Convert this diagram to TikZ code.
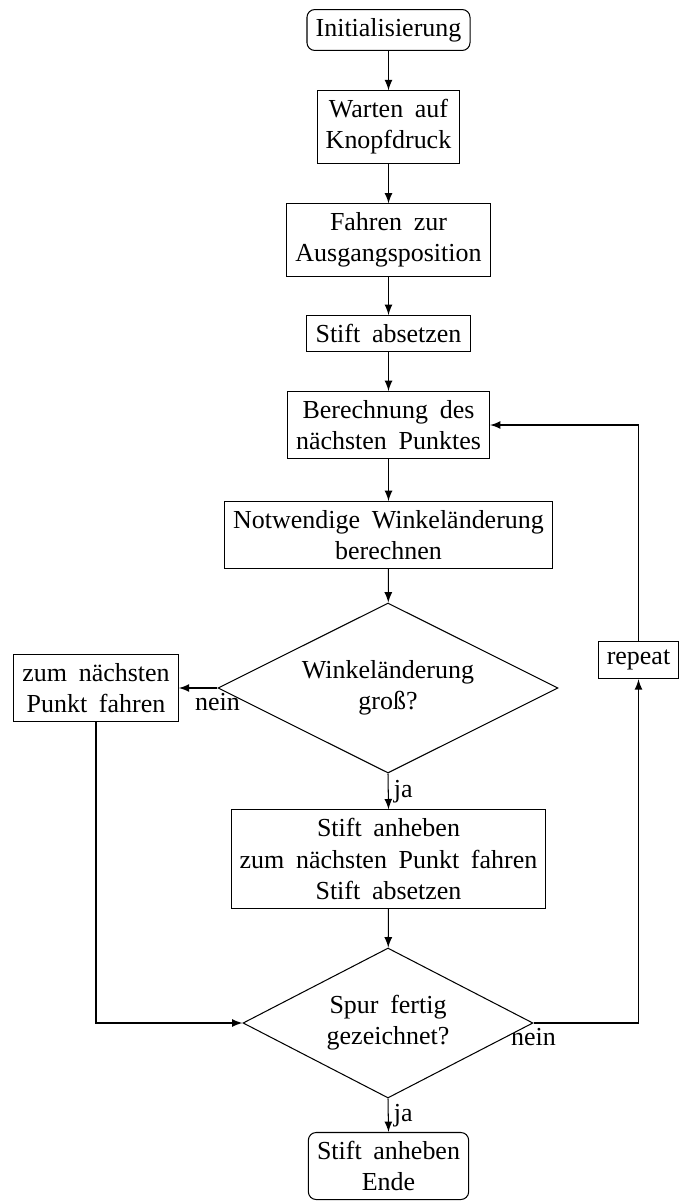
\documentclass[tikz,border=0pt]{standalone}
\usepackage{fontspec}
\setmainfont[WordSpace=1.8]{Liberation Serif}
\usetikzlibrary{shapes.geometric,arrows}
\begin{document}
\begin{tikzpicture}[x=0.385pt,y=-0.385pt,>=latex,
  stepbox/.style={draw,rectangle,align=center,line width=0.4pt},
  termbox/.style={draw,rectangle,rounded corners=3pt,align=center,line width=0.4pt},
  decbox/.style={draw,diamond,aspect=2,align=center,inner sep=0pt,line width=0.4pt},
  lbl/.style={inner sep=2pt}]
\useasboundingbox (0,0) rectangle (683,1201);
\node[termbox] (init) at (388.5,30) {Initialisierung};
\node[stepbox] (wait) at (388.5,127) {Warten auf\\Knopfdruck};
\node[stepbox] (drive) at (388.5,240) {Fahren zur\\Ausgangsposition};
\node[stepbox] (lower) at (388.5,333.5) {Stift absetzen};
\node[stepbox] (calc) at (388.5,425) {Berechnung des\\nächsten Punktes};
\node[stepbox] (angle) at (388.5,535) {Notwendige Winkeländerung\\berechnen};
\node[decbox,minimum width=130.9pt,minimum height=65.45pt] (dec1) at (388,688) {Winkeländerung\\groß?};
\node[stepbox] (move) at (96,688) {zum nächsten\\Punkt fahren};
\node[stepbox] (lift) at (388.5,859) {Stift anheben\\zum nächsten Punkt fahren\\Stift absetzen};
\node[decbox,minimum width=111.65pt,minimum height=57.75pt] (dec2) at (388,1023) {Spur fertig\\gezeichnet?};
\node[stepbox] (rep) at (638.5,660) {repeat};
\node[termbox] (end) at (388.5,1166) {Stift anheben\\Ende};

\draw[->] (init) -- (wait);
\draw[->] (wait) -- (drive);
\draw[->] (drive) -- (lower);
\draw[->] (lower) -- (calc);
\draw[->] (calc) -- (angle);
\draw[->] (angle) -- (dec1);
\draw[->] (dec1.west) -- node[lbl,below,pos=0] {nein} (move.east);
\draw[->] (dec1.south) -- node[lbl,right] {ja} (lift.north);
\draw[->] (lift) -- (dec2);
\draw[->] (move.south) |- (dec2.west);
\draw[->] (dec2.east) -- node[lbl,below,pos=0] {nein} (dec2.east -| rep.south) -- (rep.south);
\draw[->] (rep.north) |- (calc.east);
\draw[->] (dec2.south) -- node[lbl,right] {ja} (end.north);
\end{tikzpicture}
\end{document}
